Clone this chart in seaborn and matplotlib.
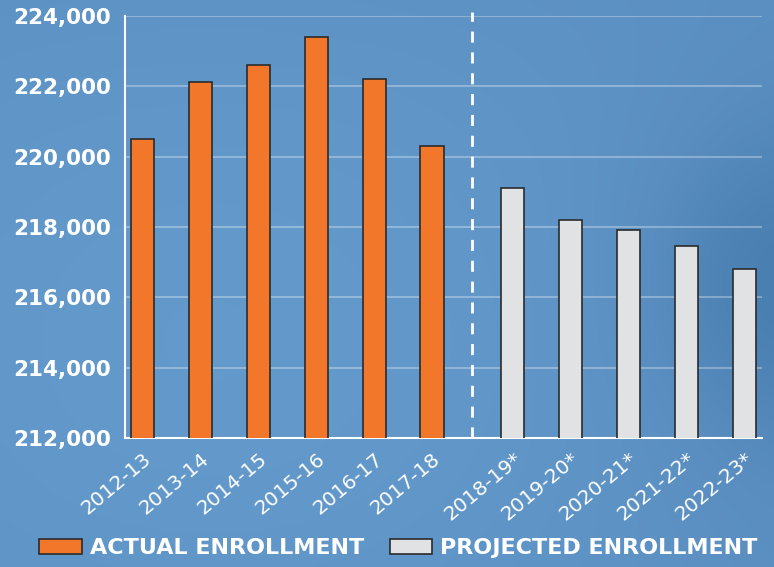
import numpy as np
import pandas as pd
import matplotlib.pyplot as plt
from matplotlib.patches import Patch
from matplotlib.ticker import FuncFormatter
from matplotlib.colors import LinearSegmentedColormap
import seaborn as sns

# School years and enrollment counts (actual then projected)
actual_years = ['2012-13', '2013-14', '2014-15', '2015-16', '2016-17', '2017-18']
actual_values = [220510, 222130, 222600, 223390, 222200, 220300]
projected_years = ['2018-19*', '2019-20*', '2020-21*', '2021-22*', '2022-23*']
projected_values = [219110, 218200, 217910, 217460, 216810]

legend_labels = ['ACTUAL ENROLLMENT', 'PROJECTED ENROLLMENT']

orange = '#f3772b'
light_gray = '#e1e2e4'
bg = '#5a8ec0'

# numeric positions with a wider gap before the projections
pos = list(range(len(actual_years))) + [len(actual_years) + 0.4 + i for i in range(len(projected_years))]
df = pd.DataFrame({
    'year': actual_years + projected_years,
    'enrollment': actual_values + projected_values,
    'kind': ['Actual'] * len(actual_years) + ['Projected'] * len(projected_years),
    'pos': pos,
})

sns.set_style('white')
plt.rcParams['font.family'] = ['DejaVu Sans']

fig = plt.figure(figsize=(7.74, 5.67), dpi=100, facecolor=bg)

# soft background shading
bg_ax = fig.add_axes([0, 0, 1, 1], zorder=-1)
gx, gy = np.meshgrid(np.linspace(0, 1, 200), np.linspace(0, 1, 150))
shade = (0.5 + 0.25 * np.cos(2.2 * gx - 0.6) * np.cos(2.0 * gy - 1.2)
         - 0.35 * np.exp(-((gx - 1.0) ** 2 / 0.03 + (gy - 0.5) ** 2 / 0.08)))
cmap = LinearSegmentedColormap.from_list('bgblue', ['#4a7fb1', '#5a8ec0', '#6399cb'])
bg_ax.imshow(shade, cmap=cmap, aspect='auto', extent=[0, 1, 0, 1], origin='upper',
             interpolation='bicubic')
bg_ax.axis('off')

ax = fig.add_axes([0.1615, 0.2275, 0.823, 0.7443])
ax.set_facecolor('none')

sns.barplot(data=df, x='pos', y='enrollment', hue='kind', native_scale=True,
            palette={'Actual': orange, 'Projected': light_gray}, dodge=False, saturation=1,
            width=0.4, edgecolor='#2b2b2b', linewidth=1.2, legend=False, ax=ax, zorder=3)

ax.set_ylim(212000, 224000)
ax.set_xlim(-0.31, pos[-1] + 0.31)
ax.set_yticks(np.arange(212000, 224001, 2000))
ax.yaxis.set_major_formatter(FuncFormatter(lambda v, p: f'{int(v):,}'))
ax.set_xticks(pos)
ax.set_xticklabels(df['year'], rotation=40, ha='right', rotation_mode='anchor',
                   color='white', fontsize=14.5)
for lab in ax.get_yticklabels():
    lab.set_fontweight('bold')
ax.tick_params(axis='y', colors='white', labelsize=15.5, length=0, pad=10)
ax.tick_params(axis='x', length=0, pad=8)
ax.set_xlabel('')
ax.set_ylabel('')

ax.grid(axis='y', color='white', alpha=0.3, linewidth=1.5, zorder=0)
for s in ['top', 'right']:
    ax.spines[s].set_visible(False)
for s in ['left', 'bottom']:
    ax.spines[s].set_color('white')
    ax.spines[s].set_linewidth(1.5)

# divider between actual and projected
ax.axvline((pos[5] + pos[6]) / 2, color='white', linestyle=(0, (4, 3.5)), linewidth=2,
           ymax=1.01, clip_on=False, zorder=4)

handles = [Patch(facecolor=orange, edgecolor='#2b2b2b', linewidth=1.2),
           Patch(facecolor=light_gray, edgecolor='#2b2b2b', linewidth=1.2)]
fig.legend(handles, legend_labels, loc='lower center', bbox_to_anchor=(0.515, -0.02),
           ncol=2, frameon=False, handlelength=1.9, handleheight=0.72, handletextpad=0.38,
           columnspacing=1.15, prop={'weight': 'bold', 'size': 16}, labelcolor='white')

fig.savefig('out.png', dpi=100, facecolor=bg)
